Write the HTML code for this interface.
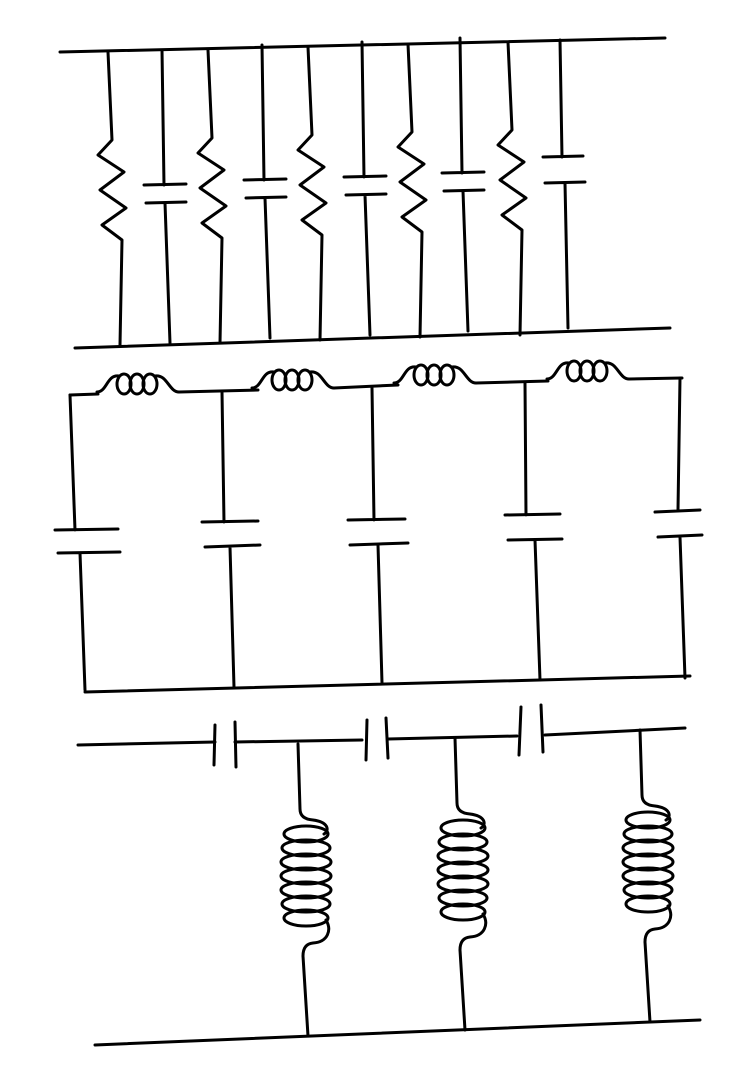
<!DOCTYPE html>
<html><head><meta charset="utf-8"><style>
html,body{margin:0;padding:0;background:#fff;}
svg{display:block;}
</style></head><body>
<svg width="741" height="1075" viewBox="0 0 741 1075" xmlns="http://www.w3.org/2000/svg" fill="none" stroke="#000" stroke-width="3" stroke-linecap="round" stroke-linejoin="round">
<defs>
<g id="r">
<path d="M108,52 L112,140 L98,155 L124,172 L100,190 L126,208 L102,225 L122,240 L120,345"/>
</g>
<g id="c1">
<path d="M162,50 L164,185 M144,185 L186,184 M146,203 L186,202 M165,203 L170,343"/>
</g>
<g id="coil">
<path d="M0,0 C10,0 10,-18 22,-16"/>
<ellipse cx="27" cy="-8" rx="7" ry="10"/>
<ellipse cx="40" cy="-8" rx="7" ry="10"/>
<ellipse cx="53" cy="-8" rx="7" ry="10"/>
<path d="M58,-16 C70,-18 72,0 82,0"/>
</g>
<g id="bc">
<path d="M0,0 L2,65 Q2,75 15,76 C30,78 32,86 26,90"/>
<ellipse cx="8" cy="90" rx="22" ry="8"/>
<ellipse cx="8" cy="104" rx="24" ry="8"/>
<ellipse cx="8" cy="118" rx="25" ry="8"/>
<ellipse cx="8" cy="132" rx="25" ry="8"/>
<ellipse cx="8" cy="146" rx="25" ry="8"/>
<ellipse cx="8" cy="160" rx="24" ry="8"/>
<ellipse cx="8" cy="174" rx="22" ry="8"/>
<path d="M28,176 C34,186 30,198 15,199 Q5,200 5,212 L10,292"/>
</g>
</defs>
<!-- Section 1 -->
<line x1="60" y1="52" x2="665" y2="38"/>
<line x1="75" y1="348" x2="670" y2="328"/>
<use href="#r"/>
<use href="#r" transform="translate(100,-2)"/>
<use href="#r" transform="translate(200,-5)"/>
<use href="#r" transform="translate(300,-8)"/>
<use href="#r" transform="translate(400,-10)"/>
<use href="#c1"/>
<use href="#c1" transform="translate(100,-5)"/>
<use href="#c1" transform="translate(200,-8)"/>
<use href="#c1" transform="translate(298,-12)"/>
<path d="M560,40 L562,157 M543,157 L583,156 M545,183 L585,182 M565,183 L568,328"/>
<!-- Section 2 -->
<line x1="85" y1="692" x2="690" y2="676"/>
<path d="M70,395 L98,394"/>
<use href="#coil" transform="translate(97,392)"/>
<path d="M179,392 L258,390"/>
<use href="#coil" transform="translate(252,388)"/>
<path d="M334,388 L398,385"/>
<use href="#coil" transform="translate(394,383)"/>
<path d="M476,383 L548,381"/>
<use href="#coil" transform="translate(547,379)"/>
<path d="M629,379 L682,378"/>
<path d="M70,395 L75,530 M55,530 L118,529 M58,553 L120,552 M80,553 L85,690"/>
<path d="M222,392 L224,522 M202,522 L258,521 M205,547 L260,545 M230,547 L234,687"/>
<path d="M372,388 L374,520 M348,520 L405,519 M350,545 L408,543 M378,545 L382,683"/>
<path d="M525,383 L526,515 M505,515 L560,514 M508,540 L562,539 M535,540 L540,680"/>
<path d="M680,378 L678,510 M655,512 L700,510 M658,537 L702,535 M680,537 L685,678"/>
<!-- Section 3 -->
<path d="M78,745 L215,742 M235,742 L362,740 M388,739 L517,736 M545,735 L685,728"/>
<path d="M215,725 L214,765 M235,722 L236,767"/>
<path d="M367,720 L366,760 M386,718 L388,758"/>
<path d="M521,707 L519,755 M541,705 L543,752"/>
<line x1="95" y1="1045" x2="700" y2="1020"/>
<use href="#bc" transform="translate(298,744)"/>
<use href="#bc" transform="translate(455,738)"/>
<use href="#bc" transform="translate(640,730)"/>
</svg>
</body></html>
